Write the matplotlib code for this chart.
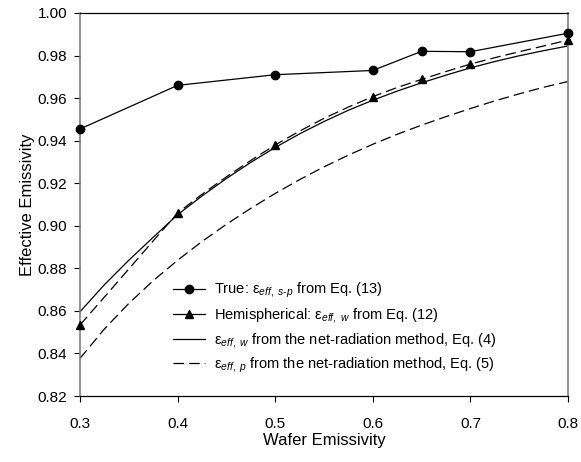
import matplotlib
matplotlib.use("Agg")
import matplotlib.pyplot as plt
from matplotlib.lines import Line2D

plt.rcParams['font.family'] = ['Liberation Sans', 'DejaVu Sans']
plt.rcParams['mathtext.fontset'] = 'custom'
plt.rcParams['mathtext.rm'] = 'Liberation Sans'
plt.rcParams['mathtext.it'] = 'Liberation Sans:italic'
plt.rcParams['mathtext.default'] = 'it'

# True (s-p) effective emissivity points
true_x = [0.3, 0.4, 0.5, 0.6, 0.65, 0.7, 0.8]
true_y = [0.9455, 0.966, 0.971, 0.973, 0.982, 0.9818, 0.9905]

# Hemispherical points
hemi_x = [0.3, 0.4, 0.5, 0.6, 0.65, 0.7, 0.8]
hemi_y = [0.8534, 0.906, 0.938, 0.9607, 0.9688, 0.976, 0.9873]

# Curves read at 0.025 steps
curve_x = [0.3, 0.325, 0.35, 0.375, 0.4, 0.425, 0.45, 0.475, 0.5, 0.525, 0.55,
           0.575, 0.6, 0.625, 0.65, 0.675, 0.7, 0.725, 0.75, 0.775, 0.8]
hemi_curve_y = [0.8534, 0.8665, 0.8797, 0.8929, 0.906, 0.9148, 0.9230, 0.9307, 0.938,
                0.9445, 0.9505, 0.9558, 0.9607, 0.965, 0.9688, 0.9725, 0.976,
                0.979, 0.9818, 0.9845, 0.9873]
net_w_y = [0.8596, 0.8723, 0.8838, 0.8946, 0.9052, 0.9140, 0.9222, 0.9298, 0.9368,
           0.9432, 0.9490, 0.9543, 0.9590, 0.9633, 0.9672, 0.9708, 0.9742,
           0.9772, 0.9799, 0.9823, 0.9845]
net_p_y = [0.8377, 0.8515, 0.8635, 0.8742, 0.8838, 0.8926, 0.9007, 0.9082, 0.9152,
           0.9217, 0.9277, 0.9332, 0.9383, 0.9430, 0.9473, 0.9513, 0.9551,
           0.9587, 0.9620, 0.9651, 0.9678]

x_ticks = [0.3, 0.4, 0.5, 0.6, 0.7, 0.8]
y_ticks = [0.82, 0.84, 0.86, 0.88, 0.90, 0.92, 0.94, 0.96, 0.98, 1.00]

fig = plt.figure(figsize=(5.81, 4.62), dpi=100)
ax = fig.add_axes([80/581, 1-396/462, 488/581, 383/462])

dash = (8.5, 4)
ax.plot(curve_x, net_p_y, color='black', lw=0.9, dashes=dash)
ax.plot(curve_x, hemi_curve_y, color='black', lw=0.9, dashes=dash)
ax.plot(curve_x, net_w_y, color='black', lw=0.9)
ax.plot(true_x, true_y, color='black', lw=0.9, marker='o', ms=6, clip_on=False, zorder=5)
ax.plot(hemi_x, hemi_y, color='black', lw=0, marker='^', ms=6, clip_on=False, zorder=5)

handles = [
    Line2D([], [], color='black', lw=0.9, marker='o', ms=6),
    Line2D([], [], color='black', lw=0.9, marker='^', ms=6),
    Line2D([], [], color='black', lw=0.9),
    Line2D([], [], color='black', lw=0.9, dashes=dash),
]
labels = [
    r'True: ε$_{eff,\ s\text{-}p}$ from Eq. (13)',
    r'Hemispherical: ε$_{eff,\ w}$ from Eq. (12)',
    r'ε$_{eff,\ w}$ from the net-radiation method, Eq. (4)',
    r'ε$_{eff,\ p}$ from the net-radiation method, Eq. (5)',
]
leg = ax.legend(handles, labels, loc='lower left', bbox_to_anchor=(0.19, 0.055),
                frameon=False, fontsize=10.5, handlelength=2.2, handletextpad=0.6,
                labelspacing=0.4, borderpad=0, borderaxespad=0)

ax.set_xlim(0.3, 0.8)
ax.set_ylim(0.82, 1.00)
ax.set_xticks(x_ticks)
ax.set_xticklabels([f'{v:.1f}' for v in x_ticks])
ax.set_yticks(y_ticks)
ax.set_yticklabels([f'{v:.2f}' for v in y_ticks])
ax.tick_params(direction='out', length=4, width=0.8, labelsize=11)
ax.tick_params(axis='y', pad=5)
ax.tick_params(axis='x', pad=11)
for s in ['left', 'right']:
    ax.spines[s].set_color('#808080')
    ax.spines[s].set_linewidth(1.2)
for s in ['top', 'bottom']:
    ax.spines[s].set_color('black')
    ax.spines[s].set_linewidth(0.9)

ax.set_xlabel('Wafer Emissivity', fontsize=12, labelpad=1.5)
ax.set_ylabel('Effective Emissivity', fontsize=12, labelpad=2)

fig.savefig('out.png', dpi=100)
